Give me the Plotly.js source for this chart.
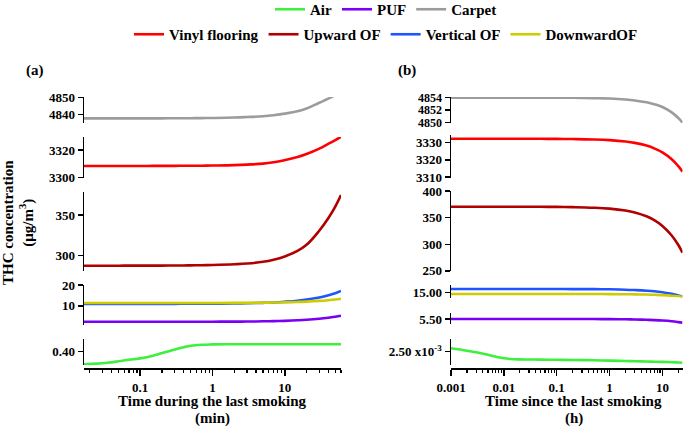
<!DOCTYPE html>
<html><head><meta charset="utf-8">
<script src="https://cdn.plot.ly/plotly-3.0.1.min.js"></script>
<style>html,body{margin:0;padding:0;background:#fff}#chart{width:685px;height:426px}</style>
</head><body><div id="chart"></div>
<script>
// ---------- DATA ----------
const seriesNames = ['Air', 'PUF', 'Carpet', 'Vinyl flooring', 'Upward OF', 'Vertical OF', 'DownwardOF'];

// Panel (a): time during the last smoking (min)
const timeMin   = [0.01667, 0.025, 0.035, 0.05, 0.07, 0.1, 0.15, 0.2, 0.3, 0.4, 0.5, 0.7, 1, 2, 3, 5, 7, 10, 15, 20, 30, 40, 50, 60];
const airA      = [0.3748, 0.3762, 0.3780, 0.3808, 0.3838, 0.3866, 0.3918, 0.3972, 0.4044, 0.4090, 0.4118, 0.4138, 0.4146, 0.4148, 0.4148, 0.4148, 0.4148, 0.4148, 0.4148, 0.4148, 0.4148, 0.4148, 0.4148, 0.4148];
const pufA      = [2.27, 2.27, 2.27, 2.27, 2.27, 2.27, 2.27, 2.27, 2.27, 2.27, 2.27, 2.27, 2.28, 2.32, 2.36, 2.46, 2.55, 2.70, 2.95, 3.20, 3.70, 4.20, 4.70, 5.17];
const carpetA   = [4837.6, 4837.6, 4837.6, 4837.61, 4837.62, 4837.63, 4837.64, 4837.65, 4837.68, 4837.7, 4837.73, 4837.78, 4837.85, 4838.1, 4838.4, 4838.9, 4839.5, 4840.4, 4841.8, 4843.4, 4846.8, 4849.2, 4851.4, 4853.5];
const vinylA    = [3308.3, 3308.3, 3308.3, 3308.3, 3308.31, 3308.32, 3308.34, 3308.35, 3308.4, 3308.42, 3308.45, 3308.5, 3308.6, 3308.9, 3309.3, 3310.0, 3311.0, 3312.6, 3314.8, 3317.0, 3321.0, 3324.5, 3327.2, 3329.7];
const upwardA   = [287.1, 287.1, 287.1, 287.1, 287.12, 287.15, 287.18, 287.2, 287.3, 287.4, 287.5, 287.7, 288.0, 288.9, 289.8, 291.9, 294.5, 298.6, 305.5, 313.0, 330.5, 346.0, 360.5, 374.8];
const verticalA = [10.9, 10.9, 10.9, 10.9, 10.9, 10.9, 10.91, 10.92, 10.93, 10.94, 10.95, 10.97, 11.0, 11.1, 11.2, 11.4, 11.6, 11.95, 12.45, 12.95, 14.0, 15.1, 16.1, 17.2];
const downwardA = [11.3, 11.3, 11.3, 11.3, 11.3, 11.3, 11.3, 11.3, 11.31, 11.31, 11.32, 11.33, 11.34, 11.37, 11.4, 11.47, 11.55, 11.65, 11.83, 12.0, 12.35, 12.7, 13.05, 13.4];

// Panel (b): time since the last smoking (h)
const timeH     = [0.001, 0.002, 0.003, 0.005, 0.007, 0.01, 0.015, 0.02, 0.03, 0.05, 0.1, 0.2, 0.5, 1, 2, 3, 5, 7, 10, 15, 20, 24];
const airB      = [0.002534, 0.002510, 0.002494, 0.002469, 0.002449, 0.002434, 0.002425, 0.002423, 0.002422, 0.002421, 0.002419, 0.002417, 0.002414, 0.002411, 0.002407, 0.002405, 0.002402, 0.002400, 0.002398, 0.002395, 0.002392, 0.002390];
const pufB      = [5.50, 5.50, 5.50, 5.50, 5.50, 5.50, 5.50, 5.50, 5.50, 5.50, 5.50, 5.50, 5.495, 5.485, 5.47, 5.455, 5.42, 5.39, 5.345, 5.27, 5.19, 5.13];
const carpetB   = [4854.0, 4854.0, 4854.0, 4854.0, 4854.0, 4854.0, 4854.0, 4854.0, 4854.0, 4854.0, 4853.99, 4853.97, 4853.92, 4853.85, 4853.7, 4853.55, 4853.25, 4852.95, 4852.5, 4851.65, 4850.75, 4850.0];
const vinylB    = [3332.3, 3332.3, 3332.3, 3332.3, 3332.3, 3332.3, 3332.3, 3332.3, 3332.3, 3332.3, 3332.22, 3332.14, 3331.9, 3331.5, 3330.7, 3329.9, 3328.3, 3326.7, 3324.3, 3320.3, 3316.3, 3313.1];
const upwardB   = [370.6, 370.6, 370.6, 370.6, 370.6, 370.6, 370.6, 370.6, 370.6, 370.5, 370.3, 369.9, 368.8, 367.0, 363.4, 359.8, 352.6, 345.3, 334.5, 316.5, 298.6, 284.3];
const verticalB = [16.3, 16.3, 16.3, 16.3, 16.3, 16.3, 16.3, 16.3, 16.3, 16.3, 16.3, 16.29, 16.26, 16.2, 16.05, 15.9, 15.65, 15.4, 15.0, 14.4, 13.75, 13.24];
const downwardB = [14.32, 14.32, 14.32, 14.32, 14.32, 14.32, 14.32, 14.32, 14.32, 14.32, 14.32, 14.31, 14.3, 14.28, 14.23, 14.19, 14.1, 14.0, 13.87, 13.65, 13.42, 13.24];

// Tick labels
const xTickValsA = [0.1, 1, 10];
const xTickTextA = ['0.1', '1', '10'];
const xTickValsB = [0.001, 0.01, 0.1, 1, 10];
const xTickTextB = ['0.001', '0.01', '0.1', '1', '10'];
const yTicksA = [[4840, 4850], [3300, 3320], [300, 350], [10, 20], [0.40]];
const yTickTextA = [['4840', '4850'], ['3300', '3320'], ['300', '350'], ['10', '20'], ['0.40']];
const yTicksB = [[4850, 4852, 4854], [3310, 3320, 3330], [250, 300, 350, 400], [15], [5.5], [0.0025]];
const yTickTextB = [['4850', '4852', '4854'], ['3310', '3320', '3330'], ['250', '300', '350', '400'], ['15.00'], ['5.50'], ['2.50 x10<sup>-3</sup>']];

// ---------- STYLE / LAYOUT ----------
const W = 685, H = 426;
const colors = {
  'Air': '#3cf03c', 'PUF': '#7a00f5', 'Carpet': '#9c9c9c', 'Vinyl flooring': '#ff0000',
  'Upward OF': '#b00000', 'Vertical OF': '#1f55ff', 'DownwardOF': '#cccc00'
};
const FONT = 'Liberation Serif, Times New Roman, serif';
const px = v => v / W;
const py = v => 1 - v / H;

// subplot y-domains in pixels [top, bottom]
const domA = [[97, 123], [137, 178], [191.7, 271], [285, 325], [339, 365]];
const rangeA = [[4834.9, 4850.2], [3299.5, 3329.5], [280.5, 378.9], [0.68, 20.05], [0.3734, 0.4254]];
const domB = [[97, 123], [135, 178], [191, 271], [285, 297.5], [312.7, 324.3], [339, 365]];
const rangeB = [[4849.95, 4854.1], [3309.4, 3334.5], [249.8, 400.2], [12.92, 17.92], [4.97, 6.13], [0.002367, 0.002627]];
const tickSizeB = [12, 13, 13, 13, 13, 13];

function minorTicks(lo, hi) {
  const out = [];
  for (let e = lo; e <= hi; e++) for (let m = 2; m <= 9; m++) out.push(m * Math.pow(10, e));
  return out;
}

const legendFont = {family: FONT, size: 15, weight: 'bold', color: '#000'};
const layout = {
  width: W, height: H,
  margin: {l: 0, r: 0, t: 0, b: 0, autoexpand: false},
  paper_bgcolor: '#fff', plot_bgcolor: 'rgba(0,0,0,0)',
  showlegend: true,
  font: {family: FONT, size: 13, color: '#000', weight: 'bold'},
  legend: {orientation: 'h', x: 386 / W, xanchor: 'center', y: py(-7), yanchor: 'top',
           font: legendFont, itemgap: 0, bgcolor: 'rgba(0,0,0,0)', traceorder: 'normal'},
  legend2: {orientation: 'h', x: 386 / W, xanchor: 'center', y: py(18), yanchor: 'top',
           font: legendFont, itemgap: 0, bgcolor: 'rgba(0,0,0,0)', traceorder: 'normal'},
  annotations: []
};

const axisCommon = {
  showline: true, linecolor: '#000', linewidth: 1.5, showgrid: false, zeroline: false,
  ticks: 'outside', tickcolor: '#000', tickwidth: 1.5, ticklen: 5,
  tickfont: {family: FONT, size: 13, weight: 'bold', color: '#000'}, fixedrange: true
};

layout.xaxis = Object.assign({}, axisCommon, {
  type: 'log', domain: [px(84), px(341)], range: [Math.log10(1 / 60), Math.log10(60)],
  anchor: 'free', position: py(368), tickvals: xTickValsA, ticktext: xTickTextA, ticklen: 6,
  ticklabelstandoff: 1,
  minor: {tickvals: minorTicks(-2, 1), ticks: 'outside', ticklen: 3, tickwidth: 1.2, tickcolor: '#000', showgrid: false}
});
layout.xaxis2 = Object.assign({}, axisCommon, {
  type: 'log', domain: [px(451), px(682.5)], range: [-3, Math.log10(24)],
  anchor: 'free', position: py(368), tickvals: xTickValsB, ticktext: xTickTextB, ticklen: 6,
  ticklabelstandoff: 1,
  minor: {tickvals: minorTicks(-3, 1), ticks: 'outside', ticklen: 3, tickwidth: 1.2, tickcolor: '#000', showgrid: false}
});

domA.forEach((d, i) => {
  const name = 'yaxis' + (i === 0 ? '' : (i + 1));
  layout[name] = Object.assign({}, axisCommon, {
    domain: [py(d[1]), py(d[0])], range: rangeA[i], anchor: 'x',
    tickvals: yTicksA[i], ticktext: yTickTextA[i]
  });
});
domB.forEach((d, i) => {
  const name = 'yaxis' + (i + 6);
  layout[name] = Object.assign({}, axisCommon, {
    domain: [py(d[1]), py(d[0])], range: rangeB[i], anchor: 'x2',
    tickvals: yTicksB[i], ticktext: yTickTextB[i],
    tickfont: {family: FONT, size: tickSizeB[i], weight: 'bold', color: '#000'}
  });
});

// ---------- TRACES ----------
const tracesA = [
  ['Air', airA, 'y5', 'legend'], ['PUF', pufA, 'y4', 'legend'], ['Carpet', carpetA, 'y', 'legend'],
  ['Vinyl flooring', vinylA, 'y2', 'legend2'], ['Upward OF', upwardA, 'y3', 'legend2'],
  ['Vertical OF', verticalA, 'y4', 'legend2'], ['DownwardOF', downwardA, 'y4', 'legend2']
];
const tracesB = [
  ['Air', airB, 'y11'], ['PUF', pufB, 'y10'], ['Carpet', carpetB, 'y6'],
  ['Vinyl flooring', vinylB, 'y7'], ['Upward OF', upwardB, 'y8'],
  ['Vertical OF', verticalB, 'y9'], ['DownwardOF', downwardB, 'y9']
];
const data = [];
tracesA.forEach(t => data.push({
  type: 'scatter', mode: 'lines', name: t[0], x: timeMin, y: t[1], xaxis: 'x', yaxis: t[2],
  legend: t[3], showlegend: true, hoverinfo: 'skip',
  line: {color: colors[t[0]], width: 2.6, shape: 'spline', smoothing: 1.2}
}));
tracesB.forEach(t => data.push({
  type: 'scatter', mode: 'lines', name: t[0], x: timeH, y: t[1], xaxis: 'x2', yaxis: t[2],
  showlegend: false, hoverinfo: 'skip',
  line: {color: colors[t[0]], width: 2.6, shape: 'spline', smoothing: 1.2}
}));

// ---------- ANNOTATIONS ----------
const ann = (text, x, y, size, extra) => Object.assign({
  text: text, x: px(x), y: py(y), xref: 'paper', yref: 'paper', showarrow: false,
  xanchor: 'center', yanchor: 'middle', font: {family: FONT, size: size, weight: 'bold', color: '#000'}
}, extra || {});
layout.annotations.push(ann('(a)', 34.5, 71, 15));
layout.annotations.push(ann('(b)', 407, 71, 15));
layout.annotations.push(ann('Time during the last smoking', 212, 401, 15));
layout.annotations.push(ann('(min)', 212, 418, 15));
layout.annotations.push(ann('Time since the last smoking', 573.5, 401, 15));
layout.annotations.push(ann('(h)', 573.5, 418, 15));
layout.annotations.push(ann('THC concentration<br>(μg/m<sup>3</sup>)', 18, 223, 15, {textangle: -90}));

Plotly.newPlot('chart', data, layout, {staticPlot: true, displayModeBar: false});
</script>
</body></html>
